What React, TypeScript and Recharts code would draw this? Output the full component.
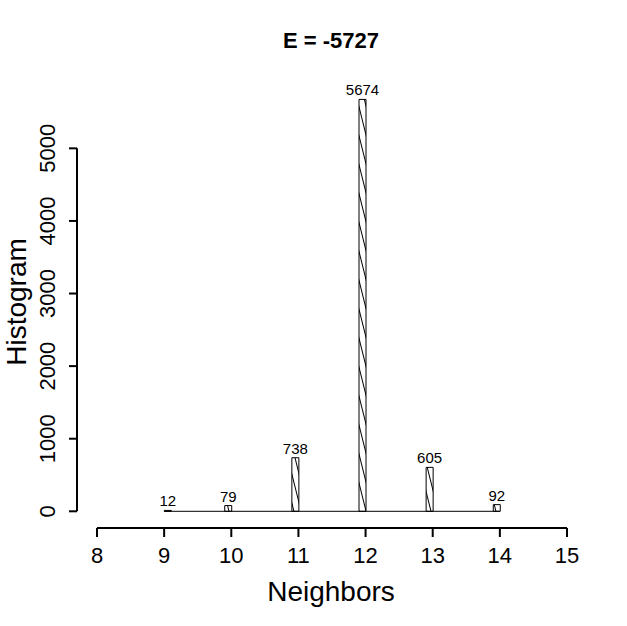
import React from 'react';
import { ComposedChart, Bar, XAxis, YAxis, ReferenceLine, LabelList, Customized } from 'recharts';

// histogram of neighbor counts
const neighbors = [9, 10, 11, 12, 13, 14];
const counts = [12, 79, 738, 5674, 605, 92];
const xTicks = [8, 9, 10, 11, 12, 13, 14, 15];
const yTicks = [0, 1000, 2000, 3000, 4000, 5000];
const title = 'E = -5727';

// R hist bins are (n-0.1, n], the first one is [9, 9.1]
const data = neighbors.map((n, i) => ({
  x: i === 0 ? n + 0.05 : n - 0.05,
  count: counts[i],
}));

const FONT = '"Liberation Sans", Arial, sans-serif';
const W = 627;
const H = 626;

const XTick: React.FC<any> = ({ x, y, payload }) => (
  <text x={x} y={y + 24} textAnchor="middle" fontSize={22} fontFamily={FONT} fill="#000">
    {payload.value}
  </text>
);

const YTick: React.FC<any> = ({ x, y, payload }) => (
  <text
    x={x}
    y={y}
    transform={`rotate(-90 ${x} ${y})`}
    textAnchor="middle"
    fontSize={22}
    fontFamily={FONT}
    fill="#000"
  >
    {payload.value}
  </text>
);

const Titles = () => (
  <g fontFamily={FONT} fill="#000">
    <text x={331} y={48} textAnchor="middle" fontSize={22} fontWeight="bold">
      {title}
    </text>
    <text x={331} y={601} textAnchor="middle" fontSize={28}>
      Neighbors
    </text>
    <text x={26} y={302} transform="rotate(-90 26 302)" textAnchor="middle" fontSize={28}>
      Histogram
    </text>
  </g>
);

export default function App() {
  const xMin = neighbors[0];
  const xMax = neighbors[neighbors.length - 1];
  return (
    <div style={{ position: 'absolute', left: 0, top: 0, background: '#fff' }}>
      <ComposedChart
        width={W}
        height={H}
        data={data}
        margin={{ top: 60, right: 40, left: 0, bottom: 0 }}
      >
        <defs>
          <pattern
            id="hatch"
            patternUnits="userSpaceOnUse"
            width={7}
            height={7}
            patternTransform="rotate(-14)"
          >
            <rect width={7} height={7} fill="#fff" />
            <line x1={0.5} y1={0} x2={0.5} y2={7} stroke="#000" strokeWidth={1} />
          </pattern>
        </defs>
        <XAxis
          type="number"
          dataKey="x"
          domain={[7.702, 15.298]}
          allowDataOverflow
          ticks={xTicks}
          interval={0}
          height={98}
          axisLine={false}
          tickSize={9}
          tickLine={{ stroke: '#000', strokeWidth: 2 }}
          tick={<XTick />}
        />
        <YAxis
          type="number"
          domain={[-230, 6217]}
          allowDataOverflow
          ticks={yTicks}
          interval={0}
          width={77}
          axisLine={false}
          tickSize={8}
          tickMargin={14}
          tickLine={{ stroke: '#000', strokeWidth: 2 }}
          tick={<YTick />}
        />
        <ReferenceLine
          segment={[{ x: 8, y: -230 }, { x: 15, y: -230 }]}
          stroke="#000"
          strokeWidth={2}
          ifOverflow="visible"
        />
        <ReferenceLine
          segment={[{ x: 7.702, y: 0 }, { x: 7.702, y: 5000 }]}
          stroke="#000"
          strokeWidth={2}
          ifOverflow="visible"
        />
        <ReferenceLine
          segment={[{ x: xMin, y: 0 }, { x: xMax, y: 0 }]}
          stroke="#000"
          strokeWidth={1}
          ifOverflow="visible"
        />
        <Bar
          dataKey="count"
          barSize={7}
          fill="url(#hatch)"
          stroke="#000"
          strokeWidth={1}
          isAnimationActive={false}
        >
          <LabelList
            dataKey="count"
            position="top"
            offset={4}
            fontSize={15}
            fontFamily={FONT}
            fill="#000"
          />
        </Bar>
        <Customized component={Titles} />
      </ComposedChart>
    </div>
  );
}
